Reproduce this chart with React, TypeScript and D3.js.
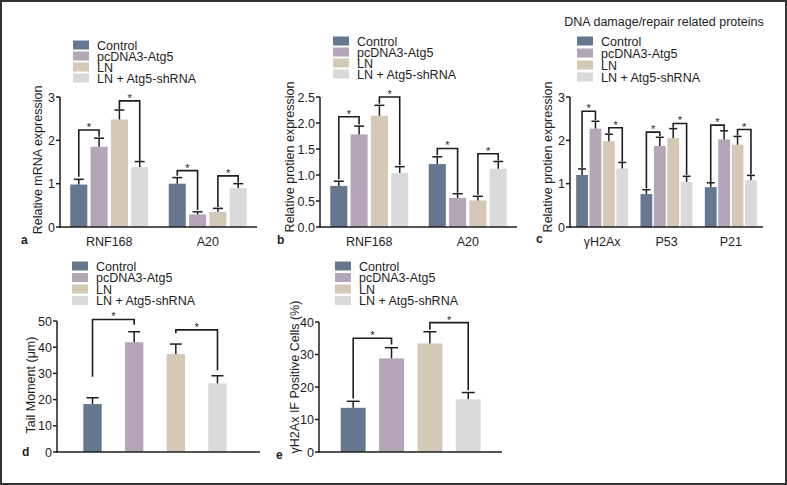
import React from "react";
import * as d3 from "d3";

// ---------- data ----------
const seriesNames = ["Control", "pcDNA3-Atg5", "LN", "LN + Atg5-shRNA"];
const seriesColors = ["#66788f", "#b4a5b9", "#d6c8b6", "#dadada"];

const aCategories = ["RNF168", "A20"];
const aMeans = [[0.98, 1.85, 2.48, 1.38], [1.0, 0.29, 0.35, 0.9]];
const aErrors = [[0.12, 0.2, 0.22, 0.13], [0.14, 0.06, 0.08, 0.1]];
// [category, from series, to series, top, left end, right end]
const aBrackets = [
  [0, 0, 1, 2.24, 1.16, 2.08],
  [0, 2, 3, 2.91, 2.72, 1.52],
  [1, 0, 1, 1.3, 1.18, 0.39],
  [1, 2, 3, 1.18, 0.46, 1.02],
];

const bCategories = ["RNF168", "A20"];
const bMeans = [[0.79, 1.78, 2.14, 1.04], [1.21, 0.56, 0.51, 1.12]];
const bErrors = [[0.09, 0.16, 0.2, 0.12], [0.14, 0.08, 0.08, 0.14]];
const bBrackets = [
  [0, 0, 1, 2.12, 0.92, 1.97],
  [0, 2, 3, 2.5, 2.37, 1.19],
  [1, 0, 1, 1.51, 1.38, 0.66],
  [1, 2, 3, 1.41, 0.62, 1.28],
];

const cTitle = "DNA damage/repair related proteins";
const cCategories = ["γH2Ax", "P53", "P21"];
const cMeans = [[1.2, 2.27, 1.98, 1.35], [0.76, 1.87, 2.05, 1.04], [0.92, 2.02, 1.9, 1.08]];
const cErrors = [[0.14, 0.17, 0.16, 0.14], [0.1, 0.2, 0.22, 0.13], [0.1, 0.2, 0.19, 0.11]];
const cBrackets = [
  [0, 0, 1, 2.67, 1.37, 2.47],
  [0, 2, 3, 2.29, 2.16, 1.51],
  [1, 0, 1, 2.19, 0.89, 2.1],
  [1, 2, 3, 2.39, 2.29, 1.2],
  [2, 0, 1, 2.35, 1.04, 2.24],
  [2, 2, 3, 2.25, 2.11, 1.21],
];

const dMeans = [18.3, 41.9, 37.4, 26.2];
const dErrors = [2.4, 4.0, 3.8, 2.9];
const dBrackets = [
  [0, 1, 50.6, 28.7, 48.6],
  [2, 3, 46.6, 45.3, 31.2],
];

const eMeans = [13.6, 28.8, 33.4, 16.2];
const eErrors = [2.0, 3.3, 3.6, 2.1];
const eBrackets = [
  [0, 1, 35.0, 16.5, 33.1],
  [2, 3, 39.8, 37.6, 19.0],
];

const aTicks = [0, 1, 2, 3];
const bTicks = [0, 0.5, 1.0, 1.5, 2.0, 2.5];
const cTicks = [0, 1, 2, 3];
const dTicks = [0, 10, 20, 30, 40, 50];
const eTicks = [0, 10, 20, 30, 40];

const FONT = "'Liberation Sans', Arial, Helvetica, sans-serif";
const INK = "#1e1e1e";

function Legend({ x, y, step }: { x: number; y: number; step: number }) {
  return (
    <g>
      {seriesNames.map((n, i) => (
        <g key={n}>
          <rect x={x} y={y + i * step - 4.5} width={16} height={9} fill={seriesColors[i]} />
          <text x={x + 24} y={y + i * step + 4.5} fontSize={12.5} fontFamily={FONT} fill={INK}>
            {n}
          </text>
        </g>
      ))}
    </g>
  );
}

function YAxis({ y, x, ticks, x2, fmt }: any) {
  const [y0, y1] = y.range();
  return (
    <g>
      <line x1={x} x2={x} y1={y0 + 0.75} y2={y1} stroke={INK} strokeWidth={1.5} />
      <line x1={x - 0.75} x2={x2} y1={y0} y2={y0} stroke={INK} strokeWidth={1.5} />
      {ticks.map((t: number) => (
        <g key={t}>
          <line x1={x - 4} x2={x} y1={y(t)} y2={y(t)} stroke={INK} strokeWidth={1.5} />
          <text
            x={x - 5}
            y={y(t) + 4.5}
            textAnchor="end"
            fontSize={12.5}
            fontFamily={FONT}
            fill={INK}
          >
            {fmt(t)}
          </text>
        </g>
      ))}
    </g>
  );
}

function Bracket({ x1, x2, yTop, yL, yR }: any) {
  return (
    <g>
      <path
        d={`M${x1},${yL}V${yTop}H${x2}V${yR}`}
        fill="none"
        stroke={INK}
        strokeWidth={1.6}
      />
      <text
        x={(x1 + x2) / 2}
        y={yTop + 1}
        textAnchor="middle"
        fontSize={11}
        fontFamily={FONT}
        fill={INK}
      >
        *
      </text>
    </g>
  );
}

function ErrorBar({ cx, y1, y2, cap }: any) {
  return (
    <g stroke={INK} strokeWidth={1.5}>
      <line x1={cx} x2={cx} y1={y1} y2={y2} />
      <line x1={cx - cap / 2} x2={cx + cap / 2} y1={y2} y2={y2} />
    </g>
  );
}

function GroupedPanel(props: any) {
  const {
    categories, means, errors, brackets, ticks, domain, fmt,
    axisX, xEnd, yTop, yBottom, groupWidth, innerPad, cap,
    ylabel, ylabelX, ylabelY, letter, letterX, letterY, catY,
  } = props;
  const y = d3.scaleLinear().domain(domain).range([yBottom, yTop]);
  const x0 = d3.scaleBand().domain(categories.map((_: any, i: number) => String(i))).range([axisX, xEnd]);
  const x1 = d3
    .scaleBand()
    .domain(seriesNames)
    .range([(x0.bandwidth() - groupWidth) / 2, (x0.bandwidth() + groupWidth) / 2])
    .paddingInner(innerPad);
  const cx = (ci: number, si: number) => (x0(String(ci)) as number) + (x1(seriesNames[si]) as number) + x1.bandwidth() / 2;
  return (
    <g>
      {means.map((row: number[], ci: number) =>
        row.map((v, si) => (
          <g key={`${ci}-${si}`}>
            <rect
              x={(x0(String(ci)) as number) + (x1(seriesNames[si]) as number)}
              y={y(v)}
              width={x1.bandwidth()}
              height={y(0) - y(v)}
              fill={seriesColors[si]}
            />
            <ErrorBar cx={cx(ci, si)} y1={y(v)} y2={y(v + errors[ci][si])} cap={cap} />
          </g>
        ))
      )}
      <YAxis y={y} x={axisX} ticks={ticks} x2={xEnd} fmt={fmt} />
      {categories.map((c: string, ci: number) => (
        <text
          key={c}
          x={(x0(String(ci)) as number) + x0.bandwidth() / 2}
          y={catY}
          textAnchor="middle"
          fontSize={12.5}
          fontFamily={FONT}
          fill={INK}
        >
          {c}
        </text>
      ))}
      {brackets.map((b: number[], i: number) => (
        <Bracket key={i} x1={cx(b[0], b[1])} x2={cx(b[0], b[2])} yTop={y(b[3])} yL={y(b[4])} yR={y(b[5])} />
      ))}
      <text
        transform={`translate(${ylabelX},${ylabelY}) rotate(-90)`}
        textAnchor="middle"
        fontSize={12.5}
        fontFamily={FONT}
        fill={INK}
      >
        {ylabel}
      </text>
      <text x={letterX} y={letterY} fontSize={12} fontWeight="bold" fontFamily={FONT} fill={INK}>
        {letter}
      </text>
    </g>
  );
}

function SimplePanel(props: any) {
  const {
    means, errors, brackets, ticks, domain,
    axisX, xEnd, yTop, yBottom, bandStart, bandEnd, pad, cap,
    ylabel, ylabelX, ylabelY, letter, letterX, letterY,
  } = props;
  const y = d3.scaleLinear().domain(domain).range([yBottom, yTop]);
  const x = d3.scaleBand().domain(seriesNames).range([bandStart, bandEnd]).paddingInner(pad).paddingOuter(pad / 2);
  const cx = (si: number) => (x(seriesNames[si]) as number) + x.bandwidth() / 2;
  return (
    <g>
      {means.map((v: number, si: number) => (
        <g key={si}>
          <rect
            x={x(seriesNames[si])}
            y={y(v)}
            width={x.bandwidth()}
            height={y(0) - y(v)}
            fill={seriesColors[si]}
          />
          <ErrorBar cx={cx(si)} y1={y(v)} y2={y(v + errors[si])} cap={cap} />
        </g>
      ))}
      <YAxis y={y} x={axisX} ticks={ticks} x2={xEnd} fmt={(t: number) => String(t)} />
      {brackets.map((b: number[], i: number) => (
        <Bracket key={i} x1={cx(b[0])} x2={cx(b[1])} yTop={y(b[2])} yL={y(b[3])} yR={y(b[4])} />
      ))}
      <text
        transform={`translate(${ylabelX},${ylabelY}) rotate(-90)`}
        textAnchor="middle"
        fontSize={12.5}
        fontFamily={FONT}
        fill={INK}
      >
        {ylabel}
      </text>
      <text x={letterX} y={letterY} fontSize={12} fontWeight="bold" fontFamily={FONT} fill={INK}>
        {letter}
      </text>
    </g>
  );
}

export default function App() {
  const W = 787;
  const H = 485;
  return (
    <svg
      width={W}
      height={H}
      style={{ position: "absolute", left: 0, top: 0, display: "block", background: "#fff" }}
    >
      <rect x={0} y={0} width={W} height={H} fill="#fff" />

      <Legend x={73} y={45} step={11} />
      <GroupedPanel
        categories={aCategories} means={aMeans} errors={aErrors} brackets={aBrackets}
        ticks={aTicks} domain={[0, 3]} fmt={(t: number) => String(t)}
        axisX={60} xEnd={257} yTop={97} yBottom={227} groupWidth={78} innerPad={0.16} cap={10}
        ylabel="Relative mRNA expression" ylabelX={42} ylabelY={160}
        letter="a" letterX={21} letterY={244} catY={246}
      />

      <Legend x={333} y={41} step={11} />
      <GroupedPanel
        categories={bCategories} means={bMeans} errors={bErrors} brackets={bBrackets}
        ticks={bTicks} domain={[0, 2.5]} fmt={d3.format(".1f")}
        axisX={320} xEnd={517} yTop={97} yBottom={227} groupWidth={78} innerPad={0.16} cap={10}
        ylabel="Relative protien expression" ylabelX={294} ylabelY={157}
        letter="b" letterX={277} letterY={244} catY={246}
      />

      <text x={664} y={26} textAnchor="middle" fontSize={12.5} fontFamily={FONT} fill={INK}>
        {cTitle}
      </text>
      <Legend x={577} y={41} step={12} />
      <GroupedPanel
        categories={cCategories} means={cMeans} errors={cErrors} brackets={cBrackets}
        ticks={cTicks} domain={[0, 3]} fmt={(t: number) => String(t)}
        axisX={570} xEnd={763} yTop={97} yBottom={227} groupWidth={52} innerPad={0.12} cap={8}
        ylabel="Relative protien expression" ylabelX={552} ylabelY={157}
        letter="c" letterX={536} letterY={243} catY={246}
      />

      <Legend x={72} y={266} step={11.5} />
      <SimplePanel
        means={dMeans} errors={dErrors} brackets={dBrackets}
        ticks={dTicks} domain={[0, 50]}
        axisX={57} xEnd={260} yTop={321} yBottom={452} bandStart={71.7} bandEnd={238.3} pad={0.56} cap={12}
        ylabel="Tail Moment (μm)" ylabelX={35} ylabelY={385}
        letter="d" letterX={22} letterY={456}
      />

      <Legend x={335} y={266} step={11.5} />
      <SimplePanel
        means={eMeans} errors={eErrors} brackets={eBrackets}
        ticks={eTicks} domain={[0, 40]}
        axisX={319} xEnd={502} yTop={322} yBottom={452} bandStart={334} bandEnd={487.4} pad={0.35} cap={13}
        ylabel="γH2Ax IF Positive Cells (%)" ylabelX={299} ylabelY={377}
        letter="e" letterX={276} letterY={459}
      />

      <rect x={1} y={1} width={W - 2} height={H - 2} fill="none" stroke="#333" strokeWidth={2} />
    </svg>
  );
}
